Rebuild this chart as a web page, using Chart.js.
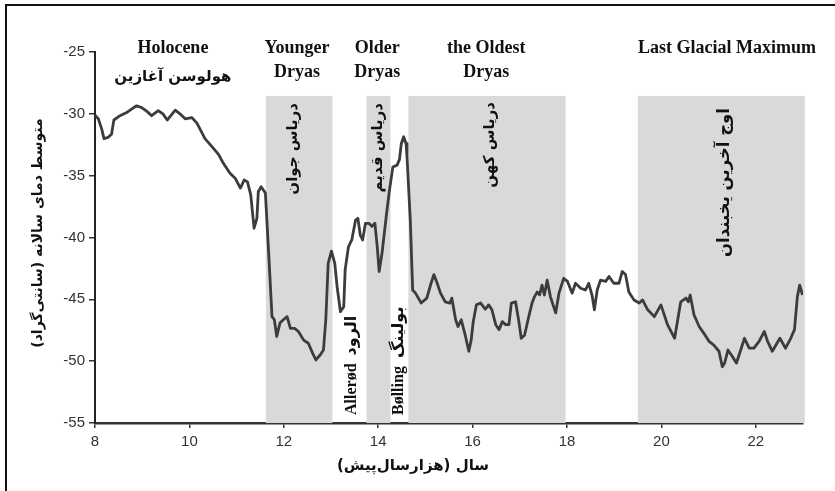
<!DOCTYPE html>
<html>
<head>
<meta charset="utf-8">
<script src="https://cdn.jsdelivr.net/npm/chart.js@4.4.0/dist/chart.umd.min.js"></script>
<style>
  body { margin: 0; background: #fff; overflow: hidden; }
  #wrap { position: relative; width: 835px; height: 491px; }
  #frame { position: absolute; left: 5px; top: 4px; width: 840px; height: 500px;
           border-top: 2px solid #111; border-left: 2px solid #111; pointer-events: none; }
</style>
</head>
<body>
<div id="wrap">
  <canvas id="chart"></canvas>
  <div id="frame"></div>
</div>
<script>
// thousand years before present
const age = [
  8.00, 8.07, 8.14, 8.19, 8.28, 8.35, 8.40, 8.53, 8.67, 8.78, 8.88, 8.99, 9.10, 9.20, 9.34, 9.44,
  9.53, 9.70, 9.80, 9.91, 10.05, 10.16, 10.33, 10.51, 10.62, 10.72, 10.86, 10.97, 11.08, 11.16, 11.23, 11.30,
  11.37, 11.43, 11.46, 11.52, 11.61, 11.68, 11.75, 11.80, 11.85, 11.92, 11.99, 12.07, 12.14, 12.23, 12.31, 12.42,
  12.52, 12.61, 12.68, 12.77, 12.84, 12.89, 12.94, 13.01, 13.08, 13.13, 13.20, 13.27, 13.30, 13.37, 13.44, 13.52,
  13.57, 13.62, 13.67, 13.73, 13.80, 13.87, 13.93, 13.98, 14.02, 14.08, 14.17, 14.24, 14.31, 14.40, 14.45, 14.49,
  14.54, 14.59, 14.61, 14.68, 14.73, 14.79, 14.91, 15.03, 15.12, 15.18, 15.25, 15.32, 15.42, 15.52, 15.56, 15.64,
  15.69, 15.76, 15.85, 15.92, 15.97, 16.01, 16.08, 16.17, 16.27, 16.34, 16.41, 16.49, 16.56, 16.63, 16.70, 16.77,
  16.82, 16.91, 16.98, 17.03, 17.10, 17.19, 17.26, 17.31, 17.37, 17.42, 17.47, 17.52, 17.58, 17.65, 17.76, 17.83,
  17.93, 18.01, 18.11, 18.18, 18.29, 18.39, 18.46, 18.53, 18.58, 18.64, 18.71, 18.82, 18.89, 18.99, 19.10, 19.17,
  19.24, 19.31, 19.42, 19.53, 19.60, 19.71, 19.85, 19.99, 20.13, 20.28, 20.41, 20.52, 20.57, 20.61, 20.69, 20.80,
  20.90, 21.01, 21.11, 21.22, 21.29, 21.34, 21.41, 21.50, 21.59, 21.68, 21.76, 21.86, 21.96, 22.07, 22.18, 22.25,
  22.35, 22.51, 22.63, 22.74, 22.82, 22.88, 22.93, 22.99
];
// mean annual temperature (°C)
const temp = [
  -30.1, -30.4, -31.2, -32.0, -31.9, -31.65, -30.5, -30.15, -29.9, -29.6, -29.35, -29.5, -29.8, -30.15, -29.75, -30.0,
  -30.5, -29.7, -30.0, -30.4, -30.3, -30.75, -32.0, -32.8, -33.3, -34.0, -34.8, -35.2, -36.0, -35.35, -35.5, -36.55,
  -39.25, -38.45, -36.3, -35.9, -36.4, -41.3, -46.4, -46.65, -48.0, -46.9, -46.65, -46.4, -47.35, -47.35, -47.6, -48.3,
  -48.55, -49.35, -49.9, -49.5, -49.1, -46.65, -42.1, -41.1, -42.1, -44.0, -46.0, -45.6, -42.6, -40.75, -40.2, -38.6,
  -38.45, -39.8, -40.2, -38.85, -38.85, -39.1, -38.85, -40.75, -42.75, -41.3, -38.3, -36.15, -34.3, -34.15, -33.7, -32.4,
  -31.85, -32.4, -33.45, -38.6, -44.25, -44.5, -45.3, -44.9, -43.7, -43.0, -43.7, -44.5, -45.2, -45.3, -44.9, -46.65,
  -47.2, -46.65, -48.0, -49.2, -48.3, -46.9, -45.45, -45.3, -45.8, -45.45, -45.85, -47.05, -47.45, -46.8, -47.05, -47.05,
  -45.3, -45.2, -46.8, -48.15, -47.9, -46.4, -45.3, -44.8, -44.4, -44.65, -43.85, -44.65, -43.45, -44.8, -46.1, -44.5,
  -43.3, -43.55, -44.5, -43.7, -44.1, -44.25, -43.7, -44.65, -45.85, -44.25, -43.45, -43.55, -43.15, -43.7, -43.7, -42.75,
  -43.0, -44.4, -45.05, -45.3, -45.05, -45.85, -46.4, -45.45, -47.05, -48.15, -45.2, -44.9, -45.2, -44.65, -46.25, -47.2,
  -47.75, -48.4, -48.7, -49.2, -50.45, -50.15, -49.1, -49.6, -50.15, -49.1, -48.15, -48.95, -48.95, -48.4, -47.6, -48.4,
  -49.2, -48.15, -48.95, -48.15, -47.45, -44.8, -43.85, -44.65
];

// cold periods (shaded)
const periodStart = [11.62, 13.75, 14.64, 19.5];
const periodEnd = [13.03, 14.26, 17.97, 23.04];
const shadeTop = -28.55;

const yTicks = [-55, -50, -45, -40, -35, -30, -25];
const xTicks = [8, 10, 12, 14, 16, 18, 20, 22];

const serifBold = "bold 18px 'Liberation Serif', 'DejaVu Serif', serif";
const faBold = "bold 15px 'DejaVu Sans', sans-serif";

function vText(ctx, str, px, py, align, dir) {
  ctx.save();
  ctx.translate(px, py);
  ctx.rotate(-Math.PI / 2);
  ctx.direction = dir || 'rtl';
  ctx.textAlign = align;
  ctx.textBaseline = 'middle';
  ctx.fillText(str, 0, 0);
  ctx.restore();
}

const periodsPlugin = {
  id: 'periods',
  beforeDatasetsDraw(chart) {
    const { ctx, scales: { x, y } } = chart;
    ctx.save();
    ctx.fillStyle = '#d9d9d9';
    const yTop = y.getPixelForValue(shadeTop);
    const yBot = y.getPixelForValue(-55);
    periodStart.forEach((s, i) => {
      const x0 = x.getPixelForValue(s);
      const x1 = x.getPixelForValue(periodEnd[i]);
      ctx.fillRect(x0, yTop, x1 - x0, yBot - yTop);
    });

    ctx.fillStyle = '#111';
    ctx.font = faBold;
    vText(ctx, 'دریاس جوان', x.getPixelForValue(12.2), 103, 'right');
    vText(ctx, 'دریاس قدیم', x.getPixelForValue(13.99), 103, 'right');
    vText(ctx, 'دریاس کهن', x.getPixelForValue(16.38), 102, 'right');
    ctx.font = "bold 16.5px 'DejaVu Sans', sans-serif";
    vText(ctx, 'اوج آخرین یخبندان', x.getPixelForValue(21.34), 108, 'right');

    ctx.font = "bold 16px 'Liberation Serif', 'DejaVu Sans', serif";
    vText(ctx, 'Allerød  الرود', x.getPixelForValue(13.45), 415, 'left', 'ltr');
    vText(ctx, 'Bølling  بولینگ', x.getPixelForValue(14.43), 415, 'left', 'ltr');
    ctx.restore();
  },
  afterDraw(chart) {
    const { ctx, scales: { x } } = chart;
    ctx.save();
    ctx.fillStyle = '#111';
    ctx.textAlign = 'center';
    ctx.textBaseline = 'middle';
    ctx.font = serifBold;
    ctx.fillText('Holocene', x.getPixelForValue(9.65), 48);
    ctx.fillText('Younger', x.getPixelForValue(12.28), 48);
    ctx.fillText('Dryas', x.getPixelForValue(12.28), 72);
    ctx.fillText('Older', x.getPixelForValue(13.98), 48);
    ctx.fillText('Dryas', x.getPixelForValue(13.98), 72);
    ctx.fillText('the Oldest', x.getPixelForValue(16.29), 48);
    ctx.fillText('Dryas', x.getPixelForValue(16.29), 72);
    ctx.fillText('Last Glacial Maximum', x.getPixelForValue(21.39), 48);

    ctx.direction = 'rtl';
    ctx.font = "bold 15px 'DejaVu Sans', sans-serif";
    ctx.fillText('هولوسن آغازین', x.getPixelForValue(9.65), 77);

    ctx.font = "bold 15px 'DejaVu Sans', sans-serif";
    ctx.fillText('سال (هزارسال‌پیش)', 413, 466);
    ctx.font = "bold 14px 'DejaVu Sans', sans-serif";
    vText(ctx, 'متوسط دمای سالانه (سانتی‌گراد)', 38, 233, 'center');
    ctx.restore();
  }
};

new Chart(document.getElementById('chart'), {
  type: 'line',
  data: {
    datasets: [{
      data: age.map((a, i) => ({ x: a, y: temp[i] })),
      borderColor: '#3c3c3c',
      borderWidth: 2.8,
      pointRadius: 0,
      tension: 0,
      borderJoinStyle: 'round',
      fill: false
    }]
  },
  options: {
    responsive: true,
    maintainAspectRatio: false,
    animation: false,
    layout: { padding: { top: 52, right: 32, left: 0, bottom: 0 } },
    plugins: { legend: { display: false }, tooltip: { enabled: false } },
    scales: {
      x: {
        type: 'linear',
        min: 8,
        max: 23,
        afterFit: s => { s.height = 68; },
        afterBuildTicks: s => { s.ticks = xTicks.map(v => ({ value: v })); },
        grid: { drawOnChartArea: false, drawTicks: true, tickLength: 5, color: '#333', lineWidth: 1.5 },
        border: { display: true, color: '#333', width: 2.5 },
        ticks: { color: '#333', font: { family: "'Liberation Sans', Arial", size: 15 }, padding: 5, maxRotation: 0 }
      },
      y: {
        min: -55,
        max: -25,
        afterFit: s => { s.width = 95; },
        afterBuildTicks: s => { s.ticks = yTicks.map(v => ({ value: v })); },
        grid: { drawOnChartArea: false, drawTicks: true, tickLength: 6, color: '#333', lineWidth: 1.5 },
        border: { display: true, color: '#222', width: 2 },
        ticks: { color: '#333', font: { family: "'Liberation Sans', Arial", size: 15 }, padding: 4 }
      }
    }
  },
  plugins: [periodsPlugin]
});
</script>
</body>
</html>
